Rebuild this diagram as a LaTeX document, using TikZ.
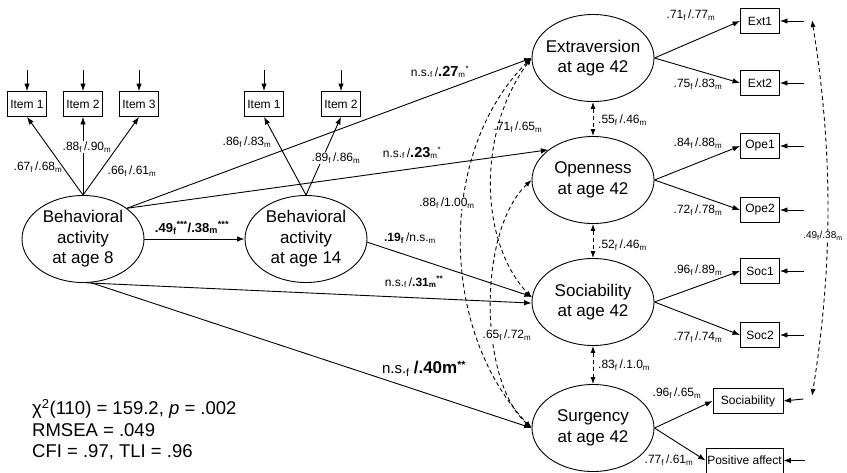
\documentclass[tikz,border=0pt]{standalone}
\usepackage{fontspec}
\setmainfont{Liberation Sans}
\usetikzlibrary{shapes.geometric,arrows.meta}
\newcommand{\fmlab}[2]{#1\textsubscript{f}\,/#2\textsubscript{m}}
\newcommand{\SbSp}[2]{\textsubscript{#1}\textsuperscript{#2}}
\begin{document}
\begin{tikzpicture}[x=1pt,y=-1pt,
  lat/.style={ellipse, draw, line width=0.9pt, minimum width=122pt, minimum height=87pt, inner sep=0pt},
  lattext/.style={align=center, inner sep=0pt, font=\fontsize{17}{20.5}\selectfont},
  obs/.style={draw, line width=0.9pt, minimum width=39pt, minimum height=25pt, inner sep=1pt, font=\fontsize{12}{14}\selectfont},
  lab/.style={inner sep=1pt, font=\fontsize{12}{14}\selectfont},
  wlab/.style={lab, fill=white},
  arr/.style={-{Latex[length=7.5pt,width=5.5pt]}, line width=0.9pt},
  darr/.style={{Latex[length=7pt,width=5pt]}-{Latex[length=7pt,width=5pt]}, line width=0.9pt, dash pattern=on 4pt off 3pt}
]
\path[use as bounding box] (0,0) rectangle (847,472);

% observed indicators, left
\node[obs] (i1) at (27,104) {Item 1};
\node[obs] (i2) at (83,104) {Item 2};
\node[obs] (i3) at (139,104) {Item 3};
\node[obs] (j1) at (264,104) {Item 1};
\node[obs] (j2) at (341,104) {Item 2};

% latent variables
\node[lat] (b8) at (83,239) {};
\node[lattext] (b8t) at (b8) {Behavioral\\activity\\at age 8};
\node[lat] (b14) at (306,239) {};
\node[lattext] (b14t) at (b14) {Behavioral\\activity\\at age 14};
\node[lat] (ext) at (593,58) {};
\node[lattext] (extt) at (ext) {Extraversion\\at age 42};
\node[lat] (ope) at (593,180) {};
\node[lattext] (opet) at (ope) {Openness\\at age 42};
\node[lat] (soc) at (593,302) {};
\node[lattext] (soct) at (soc) {Sociability\\at age 42};
\node[lat] (sur) at (593,428) {};
\node[lattext] (surt) at (sur) {Surgency\\at age 42};

% observed indicators, right
\node[obs] (e1) at (760,21) {Ext1};
\node[obs] (e2) at (760,83) {Ext2};
\node[obs] (o1) at (760,146) {Ope1};
\node[obs] (o2) at (760,210) {Ope2};
\node[obs] (s1) at (760,271) {Soc1};
\node[obs] (s2) at (760,335) {Soc2};
\node[obs, minimum width=70pt] (sb) at (748,401) {Sociability};
\node[obs, minimum width=77pt, inner sep=0pt] (pa) at (744.5,460.5) {Positive affect};

% error arrows
\foreach \n in {i1,i2,i3,j1,j2} \draw[arr] ([yshift=21pt]\n.north) -- (\n.north);
\foreach \n in {e1,e2,o1,o2,s1,s2} \draw[arr] ([xshift=24pt]\n.east) -- (\n.east);
\draw[arr] ([xshift=20pt,yshift=2pt]sb.east) -- (sb.east);
\draw[arr] ([xshift=22pt]pa.east) -- (pa.east);

% loadings
\draw[arr] (b8.north) -- (i1.south);
\draw[arr] (b8.north) -- (i2.south);
\draw[arr] (b8.north) -- (i3.south);
\draw[arr] (b14.north) -- (j1.south);
\draw[arr] (b14.north) -- (j2.south);
\draw[arr] (ext.east) -- (e1.west);
\draw[arr] (ext.east) -- (e2.west);
\draw[arr] (ope.east) -- (o1.west);
\draw[arr] (ope.east) -- (o2.west);
\draw[arr] (soc.east) -- (s1.west);
\draw[arr] (soc.east) -- (s2.west);
\draw[arr] (sur.east) -- (sb.west);
\draw[arr] (sur.east) -- (pa.west);

% structural paths
\draw[arr] (b8.east) -- (b14.west);
\draw[arr] (b8.35) -- (ext.west);
\draw[arr] (b8.35) -- (ope.146);
\draw[arr] (b8.-85) -- (soc.181);
\draw[arr] (b8.-80) -- (sur.west);
\draw[arr] (b14.-3) -- (soc.175);

% residual correlations
\draw[darr] (ext.west) .. controls (438,150) and (438,330) .. (sur.west);
\draw[darr] (ext.west) .. controls (478,130) and (478,240) .. (soc.176);
\draw[darr] (ope.west) .. controls (478,230) and (478,380) .. (sur.west);
\draw[darr] (ext.south) -- (ope.north);
\draw[darr] (ope.south) -- (soc.north);
\draw[darr] (soc.south) -- (sur.north);
\coordinate (rt) at (812,20);
\coordinate (rb) at (812,396);
\draw[darr] (rt) .. controls (833,150) and (833,266) .. (rb);

% labels
\node[lab] (l67) at (38,167) {\fmlab{.67}{.68}};
\node[wlab] (l88) at (87,147) {\fmlab{.88}{.90}};
\node[lab] (l66) at (132,171) {\fmlab{.66}{.61}};
\node[lab] (l86) at (247,142) {\fmlab{.86}{.83}};
\node[wlab] (l89) at (336,158) {\fmlab{.89}{.86}};
\node[lab, font=\fontsize{13}{15}\selectfont\bfseries] (l49) at (192,228) {.49\SbSp{f}{***}/.38\SbSp{m}{***}};
\node[lab] (l27) at (440,72) {n.s.\textsubscript{f}\,/\textbf{\fontsize{14.5}{16}\selectfont .27}\SbSp{m}{*}};
\node[lab] (l23) at (412,153) {n.s.\textsubscript{f}\,/\textbf{\fontsize{14.5}{16}\selectfont .23}\SbSp{m}{*}};
\node[lab] (l19) at (410,238) {\textbf{.19\textsubscript{f}}\,/n.s.\textsubscript{m}};
\node[lab] (l31) at (414,282) {n.s.\textsubscript{f}\,/\textbf{.31\SbSp{m}{**}}};
\node[lab, font=\fontsize{15}{18}\selectfont] (l40) at (424,369) {n.s.\textsubscript{f} \textbf{\fontsize{17}{18}\selectfont/.40m}\textsuperscript{\textbf{**}}};
\node[wlab] (l88b) at (447,203) {\fmlab{.88}{1.00}};
\node[lab] (l71) at (518,127) {\fmlab{.71}{.65}};
\node[wlab] (l65) at (507,335) {\fmlab{.65}{.72}};
\node[lab, anchor=west] (l55) at (597,120) {\fmlab{.55}{.46}};
\node[lab, anchor=west] (l52) at (597,245) {\fmlab{.52}{.46}};
\node[lab, anchor=west] (l83) at (597,365) {\fmlab{.83}{.1.0}};
\node[lab] (r71) at (691,15) {\fmlab{.71}{.77}};
\node[lab] (r75) at (698,84) {\fmlab{.75}{.83}};
\node[lab] (r84) at (698,143) {\fmlab{.84}{.88}};
\node[lab] (r72) at (698,210) {\fmlab{.72}{.78}};
\node[lab] (r96) at (698,270) {\fmlab{.96}{.89}};
\node[lab] (r77) at (698,337) {\fmlab{.77}{.74}};
\node[lab] (r96b) at (677,393) {\fmlab{.96}{.65}};
\node[lab] (r77b) at (669,460) {\fmlab{.77}{.61}};
\node[wlab, font=\fontsize{10}{12}\selectfont, inner sep=0.5pt] (r49) at (823,236) {.49\textsubscript{f}/.38\textsubscript{m}};

% fit statistics
\node[anchor=west, align=left, inner sep=0pt, font=\fontsize{18.5}{21.5}\selectfont] (fit) at (32,430)
  {χ\textsuperscript{2}(110) = 159.2, \textit{p} = .002\\RMSEA = .049\\CFI = .97, TLI = .96};
\end{tikzpicture}
\end{document}
